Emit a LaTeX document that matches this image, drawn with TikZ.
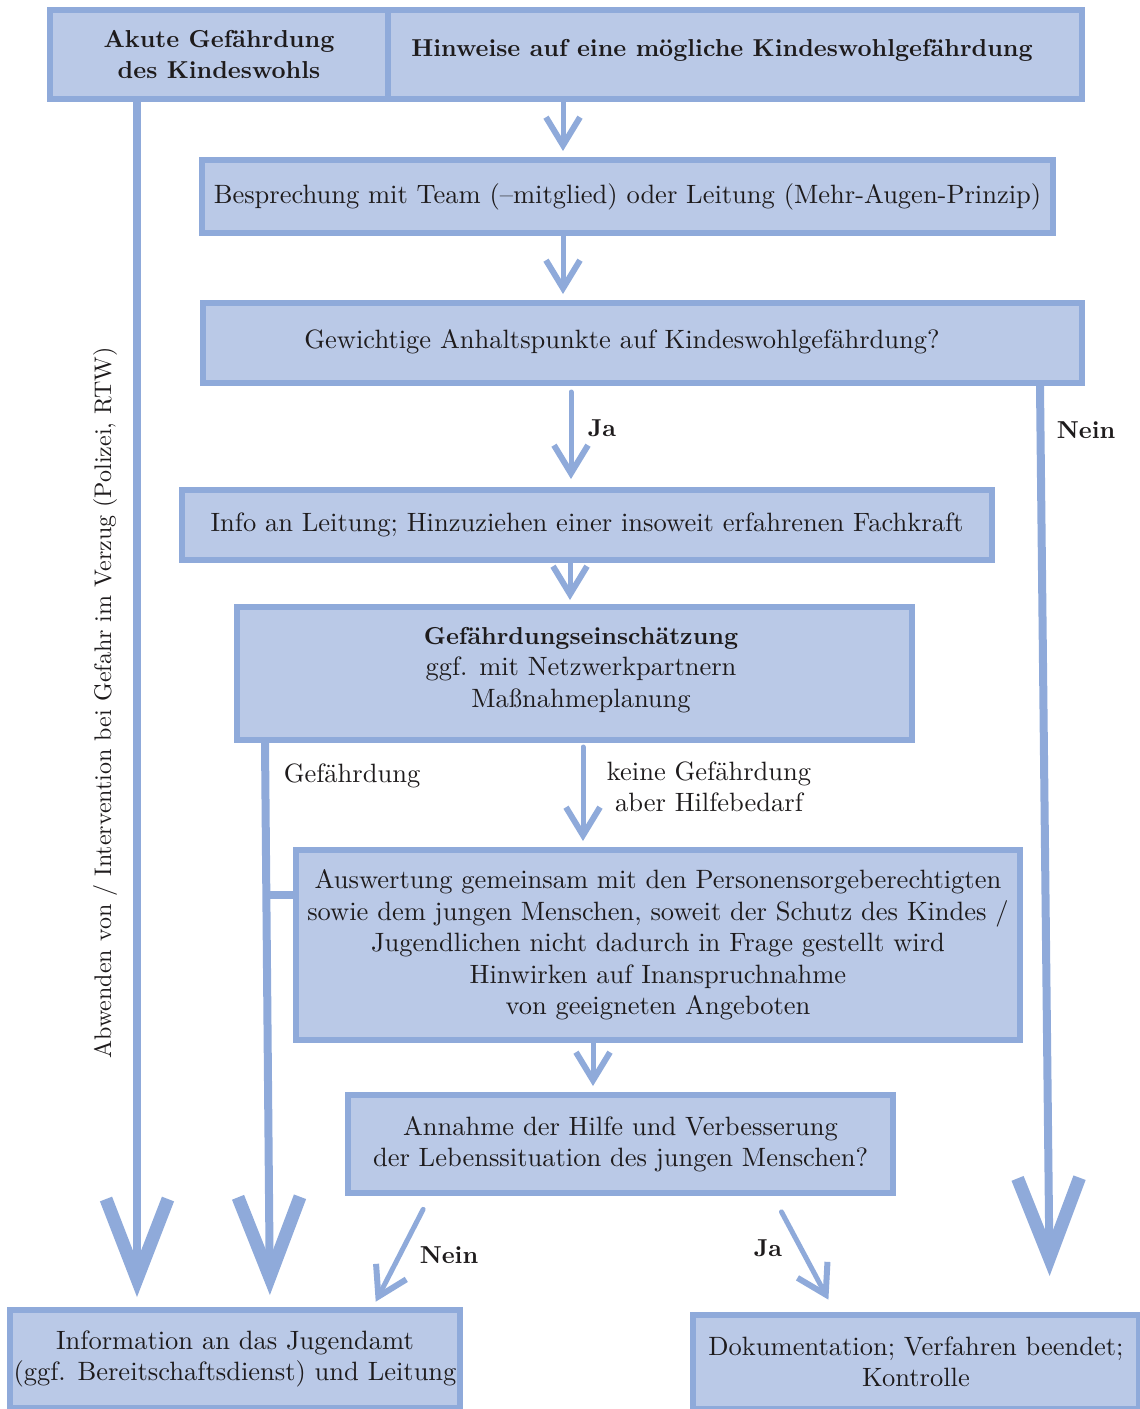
\documentclass[tikz,border=0pt]{standalone}
\usepackage{fontspec}
\setmainfont{lmroman10-regular.otf}[BoldFont=lmroman10-bold.otf, ItalicFont=lmroman10-italic.otf]
\usetikzlibrary{arrows.meta}
\definecolor{boxfill}{RGB}{186,201,231}
\definecolor{boxline}{RGB}{143,170,218}
\definecolor{txt}{RGB}{30,27,28}
\newcommand\myfs{\fontsize{26.5}{31.5}\selectfont}
\newcommand\mybf{\fontsize{24.5}{31.5}\selectfont\bfseries}
\begin{document}
\begin{tikzpicture}[x=1pt,y=-1pt,
  box/.style={draw=boxline, fill=boxfill, line width=6pt, inner sep=0pt, align=center, text=txt, font=\myfs},
  arr/.style={draw=boxline, line width=5pt, line cap=round, -{Straight Barb[length=28pt,width=34pt,line width=6pt]}},
  bigarr/.style={draw=boxline, line width=8pt, -{Straight Barb[length=80pt,width=62pt,line width=13pt]}},
  lab/.style={text=txt, font=\myfs, align=center},
  blab/.style={text=txt, font=\mybf, align=center}]
\useasboundingbox (0,0) rectangle (1140,1409);
% boxes
\node[box, font=\mybf, minimum width=338pt, minimum height=89pt] (akute) at (219,54.5) {Akute Gefährdung\\des Kindeswohls};
\node[box, minimum width=694pt, minimum height=89pt] (hinw) at (735,54.5) {};
\node[blab] (hinwt) at (722,50) {Hinweise auf eine mögliche Kindeswohlgefährdung};
\node[box, minimum width=851pt, minimum height=73pt] (besp) at (627.5,196.5) {Besprechung mit Team (--mitglied) oder Leitung (Mehr-Augen-Prinzip)};
\node[box, minimum width=879pt, minimum height=80pt] (gew) at (642.5,343) {};
\node[lab] (gewt) at (622,342) {Gewichtige Anhaltspunkte auf Kindeswohlgefährdung?};
\node[box, minimum width=810pt, minimum height=70pt] (info) at (587,525) {Info an Leitung; Hinzuziehen einer insoweit erfahrenen Fachkraft};
\node[box, minimum width=675pt, minimum height=133pt] (gef) at (574.5,673.5) {};
\node[lab] (geft) at (581,670) {{\mybf Gefährdungseinschätzung}\\ggf. mit Netzwerkpartnern\\Maßnahmeplanung};
\node[box, minimum width=724pt, minimum height=190pt] (ausw) at (658,945) {};
\node[lab] (auswt) at (658,945) {Auswertung gemeinsam mit den Personensorgeberechtigten\\sowie dem jungen Menschen, soweit der Schutz des Kindes /\\Jugendlichen nicht dadurch in Frage gestellt wird\\Hinwirken auf Inanspruchnahme\\von geeigneten Angeboten};
\node[box, minimum width=545pt, minimum height=98pt] (anni) at (620.5,1144) {Annahme der Hilfe und Verbesserung\\der Lebenssituation des jungen Menschen?};
\node[box, minimum width=450pt, minimum height=98pt] (jugend) at (235,1359) {Information an das Jugendamt\\(ggf. Bereitschaftsdienst) und Leitung};
\node[box, minimum width=446pt, minimum height=94pt] (doku) at (916,1362) {Dokumentation; Verfahren beendet;\\Kontrolle};
% small arrows
\draw[arr, shorten >=6pt] (hinw.south -| 563,0) -- (besp.north -| 563,0);
\draw[arr, shorten >=6pt] (besp.south -| 563,0) -- (gew.north -| 563,0);
\draw[arr, shorten <=6pt, shorten >=8pt] (gew.south -| 571,0) -- (info.north -| 571,0);
\draw[arr, shorten >=4pt] (info.south -| 570,0) -- (gef.north -| 570,0);
\draw[arr, shorten <=4pt, shorten >=6pt] (gef.south -| 583,0) -- (ausw.north -| 583,0);
\draw[arr, shorten >=6pt] (ausw.south -| 593,0) -- (anni.north -| 593,0);
\draw[arr, shorten <=15pt, shorten >=6pt] (anni.south -| 430,0) -- (jugend.north -| 373,0);
\draw[arr, shorten <=18pt, shorten >=14pt] (anni.south -| 773,0) -- (doku.north -| 835,0);
% long lines
\draw[bigarr, shorten >=10pt] (akute.south -| 137,0) -- (jugend.north -| 137,0);
\draw[bigarr, shorten >=12pt] (gef.south -| 265,0) -- (jugend.north -| 270,0);
\coordinate (br) at (266,895);
\draw[draw=boxline, line width=8pt] (br) -- (ausw.west |- br);
\draw[bigarr, shorten >=36pt] (gew.south -| 1040,0) -- (doku.north -| 1050,0);
% labels
\node[blab] (ja1) at (602,428) {Ja};
\node[blab] (nein1) at (1086,430) {Nein};
\node[lab] (gefl) at (352,776) {Gefährdung};
\node[lab] (keine) at (709,787) {keine Gefährdung\\aber Hilfebedarf};
\node[blab] (nein2) at (449,1255) {Nein};
\node[blab] (ja2) at (768,1248) {Ja};
\node[lab, font=\fontsize{24}{28}\selectfont, rotate=90] (abw) at (105,703) {Abwenden von / Intervention bei Gefahr im Verzug (Polizei, RTW)};
\end{tikzpicture}
\end{document}
